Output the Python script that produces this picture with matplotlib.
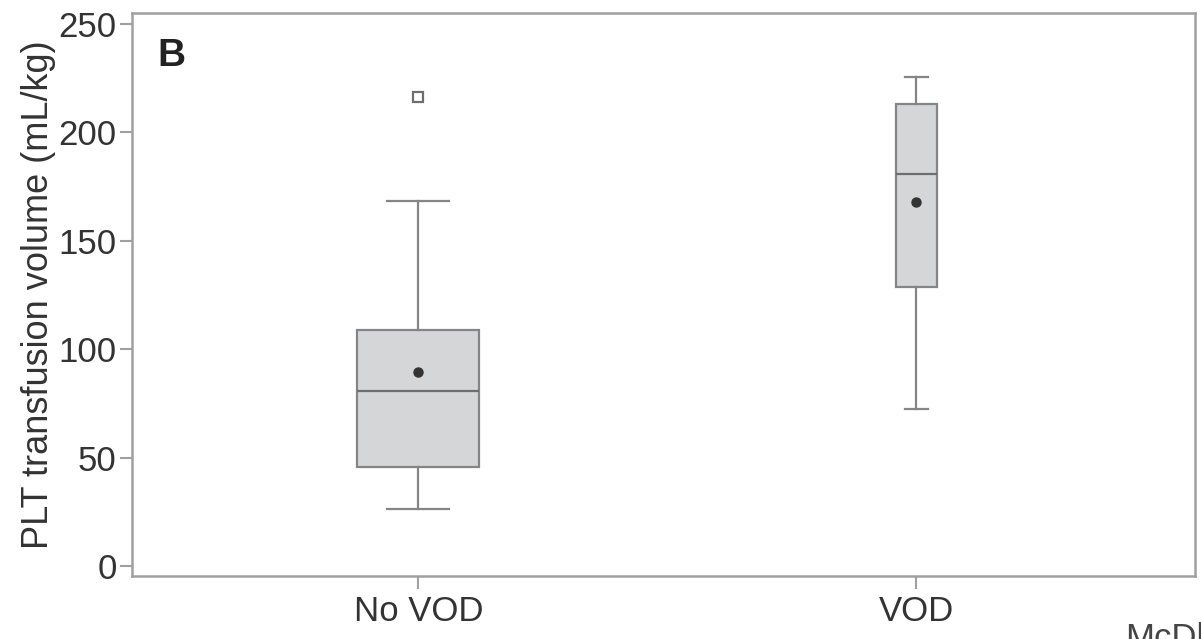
import matplotlib
matplotlib.use("Agg")
import matplotlib.pyplot as plt

plt.rcParams['font.family'] = ['Liberation Sans', 'DejaVu Sans']

# Data
categories = ["No VOD", "VOD"]
positions = [1, 2]
whisker_low = [26.5, 72.5]
q1 = [45.5, 128.5]
medians = [80.5, 181.0]
q3 = [109.0, 213.0]
whisker_high = [168.5, 225.5]
means = [89.5, 168.0]
outliers = [[216.5], []]
box_widths = [0.245, 0.083]
cap_widths = [0.125, 0.046]
yticks = [0, 50, 100, 150, 200, 250]

fig = plt.figure(figsize=(12.01, 6.39), dpi=100)
ax = fig.add_axes([0.1099, 0.0986, 0.8851, 0.8811])

stats = []
for i in range(len(categories)):
    stats.append(dict(label=categories[i], whislo=whisker_low[i], q1=q1[i],
                      med=medians[i], q3=q3[i], whishi=whisker_high[i],
                      mean=means[i], fliers=outliers[i]))

edge = '#858585'
for i in range(len(categories)):
    ax.bxp([stats[i]], positions=[positions[i]], widths=box_widths[i],
           capwidths=cap_widths[i], patch_artist=True, showmeans=True,
           boxprops=dict(facecolor='#d5d6d8', edgecolor=edge, linewidth=1.6),
           medianprops=dict(color='#6e6e6e', linewidth=1.6),
           whiskerprops=dict(color=edge, linewidth=1.6),
           capprops=dict(color=edge, linewidth=1.6),
           meanprops=dict(marker='o', markerfacecolor='#333333',
                          markeredgecolor='#333333', markersize=6.5),
           flierprops=dict(marker='s', markerfacecolor='white',
                           markeredgecolor='#6e6e6e', markersize=7,
                           markeredgewidth=1.6))

ax.set_xlim(0.425, 2.56)
ax.set_ylim(-4.6, 255.1)
ax.set_xticks(positions)
ax.set_xticklabels(categories)
ax.set_yticks(yticks)
ax.set_yticklabels([str(t) for t in yticks])

for s in ax.spines.values():
    s.set_color('#a0a0a0')
    s.set_linewidth(1.8)

ax.tick_params(axis='both', colors='#a0a0a0', labelcolor='#333333',
               labelsize=25, length=9, width=1.5, direction='out')
ax.tick_params(axis='x', labelsize=25, pad=5)
ax.tick_params(axis='y', pad=2)

ax.set_ylabel("PLT transfusion volume (mL/kg)", fontsize=26,
              color='#333333', labelpad=2)

ax.text(0.024, 0.955, "B", transform=ax.transAxes, fontsize=28,
        fontweight='bold', color='#222222', va='top', ha='left')

fig.text(1125 / 1201, -0.014, "McDh", fontsize=25, color='#444444',
         ha='left', va='baseline')

fig.savefig("out.png", dpi=100)
